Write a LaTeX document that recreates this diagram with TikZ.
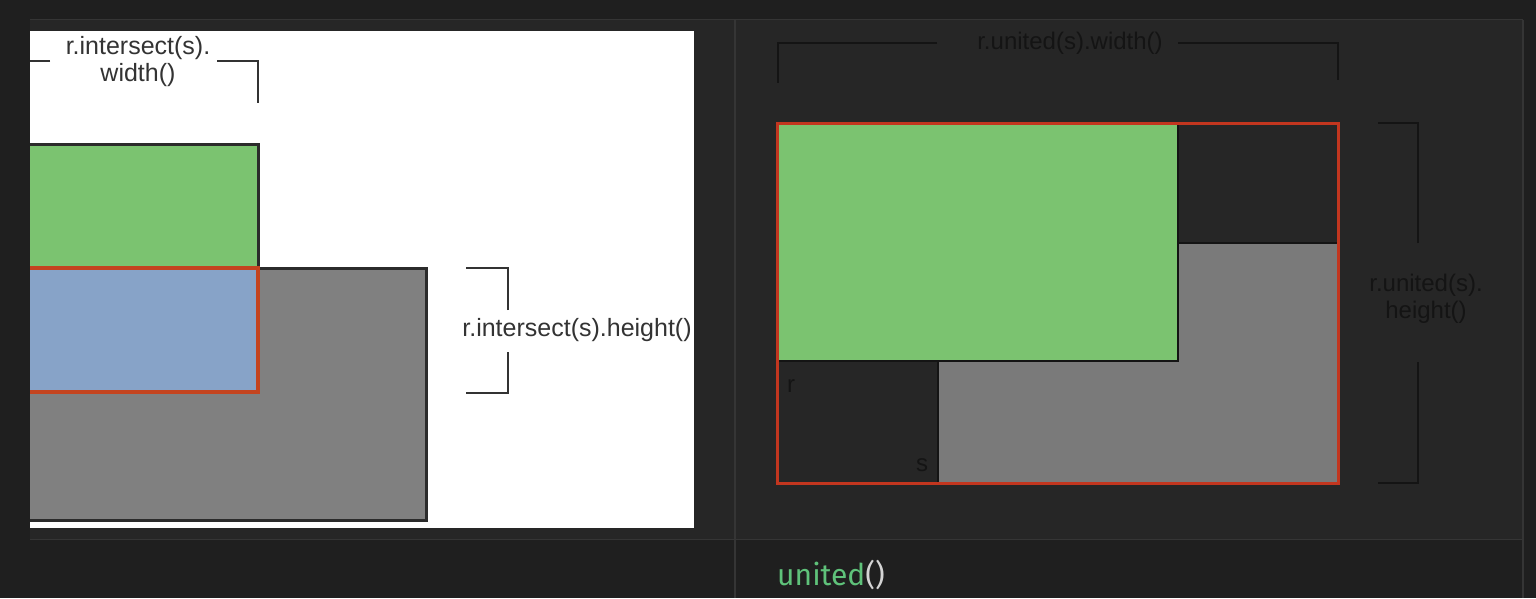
\documentclass[tikz,border=0pt]{standalone}
\usepackage{fontspec}
\setmainfont{Liberation Sans}
\newfontfamily\codefont{Fira Sans}
\definecolor{outerbg}{HTML}{1F1F1F}
\definecolor{cellbg}{HTML}{262626}
\definecolor{gridcol}{HTML}{353535}
\definecolor{greenbox}{HTML}{7BC370}
\definecolor{bluebox}{HTML}{87A3C8}
\definecolor{graybox}{HTML}{808080}
\definecolor{graydark}{HTML}{7A7A7A}
\definecolor{redline}{HTML}{C2361F}
\definecolor{redorange}{HTML}{C4441F}
\definecolor{inkdark}{HTML}{141414}
\definecolor{inklight}{HTML}{333333}
\definecolor{codegreen}{HTML}{5FC27A}
\definecolor{codeparen}{HTML}{D4D4D4}
\tikzset{
  gridline/.style={draw=gridcol,line width=1.5pt},
  boxedge/.style={draw=inklight!85!black,line width=3pt},
  darkedge/.style={draw=inkdark,line width=2pt},
  unionedge/.style={draw=redline,line width=3pt},
  bracket/.style={draw=inklight,line width=2.5pt},
  darkbracket/.style={draw=inkdark,line width=2.5pt},
  lbl/.style={text=inklight,font=\fontsize{25}{27}\selectfont,align=center,inner sep=0pt},
  darklbl/.style={text=inkdark,font=\fontsize{24}{27}\selectfont,align=center,inner sep=0pt},
}
\begin{document}
\begin{tikzpicture}[x=1pt,y=-1pt]
  \useasboundingbox (0,0) rectangle (1536,598);
  % table background
  \fill[outerbg] (0,0) rectangle (1536,598);
  \fill[cellbg] (30,20) rectangle (1523,539);
  \draw[gridline] (30,19.5) -- (1523,19.5);
  \draw[gridline] (30,539.5) -- (1523,539.5);
  \draw[gridline] (735,19.5) -- (735,598);
  \draw[gridline] (1523,19.5) -- (1523,598);

  % left cell: intersected()
  \begin{scope}
    \clip (30,31) rectangle (694,528);
    \fill[white] (30,31) rectangle (694,528);
    \draw[boxedge,fill=graybox] (-10,268) rectangle (426,520);
    \draw[boxedge,fill=greenbox] (-10,144) rectangle (258,268);
    \draw[draw=redorange,line width=3.5pt,fill=bluebox] (-10,268) rectangle (258,392);

    \node[lbl] (iw) at (138,61.5) {r.intersect(s).\\width()};
    \coordinate (iwL) at (50,61);
    \coordinate (iwR) at (217,61);
    \draw[bracket] (iwL) -| (10,103);
    \draw[bracket] (iwR) -| (258,103);

    \node[lbl] (ih) at (577,330) {r.intersect(s).height()};
    \coordinate (ihT) at (508,310);
    \coordinate (ihB) at (508,352);
    \draw[bracket] (ihT) |- (466,268);
    \draw[bracket] (ihB) |- (466,393);
  \end{scope}

  % right cell: united()
  \draw[darkedge,fill=graydark] (938,243) rectangle (1338,483);
  \draw[darkedge,fill=greenbox] (777,123) rectangle (1178,361);
  \draw[unionedge] (777,123) rectangle (1338,483);
  \node[darklbl] (r) at (791,386) {r};
  \node[darklbl] (s) at (922,465) {s};

  \node[darklbl] (uw) at (1070,43) {r.united(s).width()};
  \coordinate (uwL) at (937,43);
  \coordinate (uwR) at (1178,43);
  \draw[darkbracket] (uwL) -| (778,83);
  \draw[darkbracket] (uwR) -| (1338,80);

  \node[darklbl] (uh) at (1426,299) {r.united(s).\\height()};
  \coordinate (uhT) at (1418,243);
  \coordinate (uhB) at (1418,362);
  \draw[darkbracket] (uhT) |- (1378,123);
  \draw[darkbracket] (uhB) |- (1378,483);

  % bottom row
  \node[anchor=base west,inner sep=0pt,font=\codefont\fontsize{30}{32}\selectfont] (fn) at (777,585)
    {\textcolor{codegreen}{united}\textcolor{codeparen}{()}};
\end{tikzpicture}
\end{document}
